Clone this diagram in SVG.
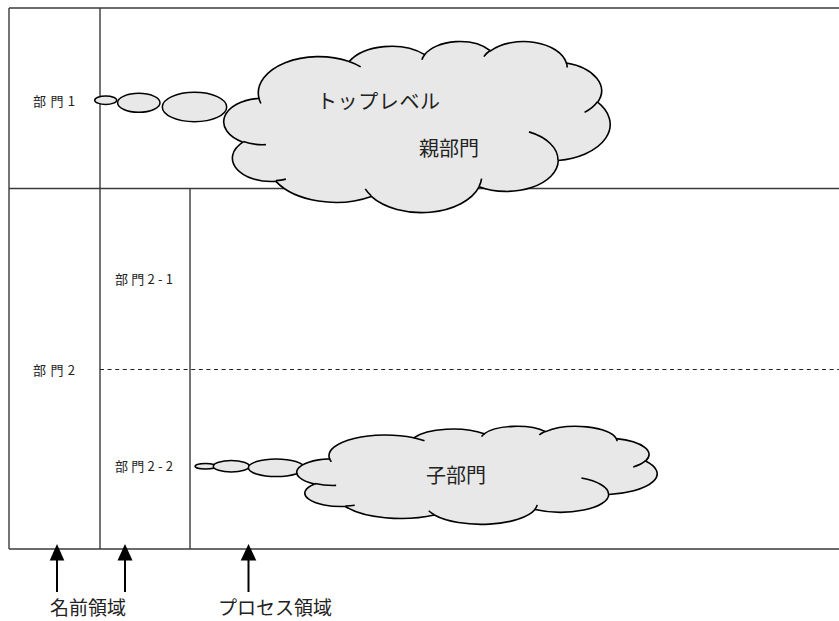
<svg xmlns="http://www.w3.org/2000/svg" width="839" height="621" viewBox="0 0 839 621">
<style>
.grid{stroke:#3a3a3a;stroke-width:1.4;fill:none}
.dash{stroke:#222;stroke-width:1.2;stroke-dasharray:4 3.6;fill:none}
.cloud{fill:#e8e8e8;stroke:#000;stroke-width:1.6}
.crease{fill:none;stroke:#000;stroke-width:1.6}
.bubble{fill:#e8e8e8;stroke:#000;stroke-width:1.5}
.lbl{font-family:"Noto Sans CJK JP","Liberation Sans",sans-serif;font-size:13px;fill:#222}
.big{font-family:"Noto Sans CJK JP","Liberation Sans",sans-serif;font-size:20px;fill:#222}
.cap{font-family:"Noto Sans CJK JP","Liberation Sans",sans-serif;font-size:19px;fill:#222}
.arr{stroke:#000;stroke-width:2;fill:none}
.head{fill:#000}
</style>
<defs>
<path id="cloudOutline" vector-effect="non-scaling-stroke" d="M3900 14370 A6753 9190 0 0 1 14005 5202 A5333 7267 0 0 1 22457 3428 A4365 5945 0 0 1 29834 2475 A4857 6595 0 0 1 38319 5570 A5333 7273 0 0 1 41819 15454 A6775 9220 0 0 1 37407 30199 A5785 7867 0 0 1 28558 36810 A6752 9215 0 0 1 16483 39263 A7720 10543 0 0 1 5807 35470 A4360 5918 0 0 1 2115 25550 A4345 5945 0 0 1 3865 14507 Z"/>
<path id="cloudCreases" vector-effect="non-scaling-stroke" d="M4693 26177 A4345 5945 0 0 1 2159 25379 M6928 34899 A4360 5918 0 0 1 5819 35281 M16478 39090 A6752 9215 0 0 1 15809 37348 M28827 34751 A6752 9215 0 0 1 28561 36660 M34129 22954 A5785 7867 0 0 1 37380 30090 M41798 15354 A5333 7273 0 0 1 40350 18030 M38324 5426 A4857 6595 0 0 1 38400 6690 M29078 3952 A4857 6595 0 0 1 29820 2340 M22141 4720 A4365 5945 0 0 1 22500 3331 M14000 5192 A6753 9190 0 0 1 15300 6540 M4127 15789 A6753 9190 0 0 1 3900 14371"/>
</defs>

<g id="table">
<line class="grid" x1="9" y1="8" x2="839" y2="8"/>
<line class="grid" x1="9" y1="8" x2="9" y2="549"/>
<line class="grid" x1="9" y1="549" x2="839" y2="549"/>
<line class="grid" x1="100" y1="8" x2="100" y2="549"/>
<line class="grid" x1="9" y1="188.5" x2="839" y2="188.5"/>
<line class="grid" x1="190" y1="188.5" x2="190" y2="549"/>
<line class="dash" x1="100" y1="369.5" x2="839" y2="369.5"/>
</g>

<g id="label-bumon1"><text class="lbl" x="33" y="105.5" textLength="42" lengthAdjust="spacing">部門1</text></g>
<g id="label-bumon2"><text class="lbl" x="33" y="374.5" textLength="42" lengthAdjust="spacing">部門2</text></g>
<g id="label-bumon2-1"><text class="lbl" x="115" y="283.5" textLength="58" lengthAdjust="spacing">部門2-1</text></g>
<g id="label-bumon2-2"><text class="lbl" x="115" y="470.5" textLength="58" lengthAdjust="spacing">部門2-2</text></g>

<g id="connectors">
<g id="bubbles-top">
<ellipse class="bubble" cx="105.7" cy="100.2" rx="11" ry="4.2"/>
<ellipse class="bubble" cx="138.8" cy="102.8" rx="21.2" ry="9.5"/>
<ellipse class="bubble" cx="194.5" cy="107" rx="32.2" ry="14.7"/>
</g>
<g id="bubbles-child">
<ellipse class="bubble" cx="205.5" cy="466.2" rx="10.5" ry="2.8"/>
<ellipse class="bubble" cx="231.3" cy="466.3" rx="18" ry="5.7"/>
<ellipse class="bubble" cx="276.2" cy="467.8" rx="27.8" ry="8.8"/>
</g>
<g id="arrows">
<line class="arr" x1="57" y1="558" x2="57" y2="592"/>
<polygon class="head" points="57,544 64.3,560.5 49.7,560.5"/>
<line class="arr" x1="125" y1="558" x2="125" y2="592"/>
<polygon class="head" points="125,544 132.5,560.5 117.5,560.5"/>
<line class="arr" x1="248.5" y1="558" x2="248.5" y2="592"/>
<polygon class="head" points="248.5,544 256.3,560.5 240.7,560.5"/>
</g>
</g>

<g id="cloud-parent">
<g transform="translate(224 41) scale(0.0089352 0.0039583)">
<use href="#cloudOutline" class="cloud"/>
<use href="#cloudCreases" class="crease"/>
</g>
<text class="big" x="317" y="109" textLength="123" lengthAdjust="spacing">トップレベル</text>
<text class="big" x="419" y="156">親部門</text>
</g>

<g id="cloud-child">
<g transform="translate(297 426) scale(0.0083333 0.0022685)">
<use href="#cloudOutline" class="cloud"/>
<use href="#cloudCreases" class="crease"/>
</g>
<text class="big" x="426" y="483">子部門</text>
</g>

<g id="caption-name"><text class="cap" x="50" y="615">名前領域</text></g>
<g id="caption-process"><text class="cap" x="218" y="615">プロセス領域</text></g>
</svg>
